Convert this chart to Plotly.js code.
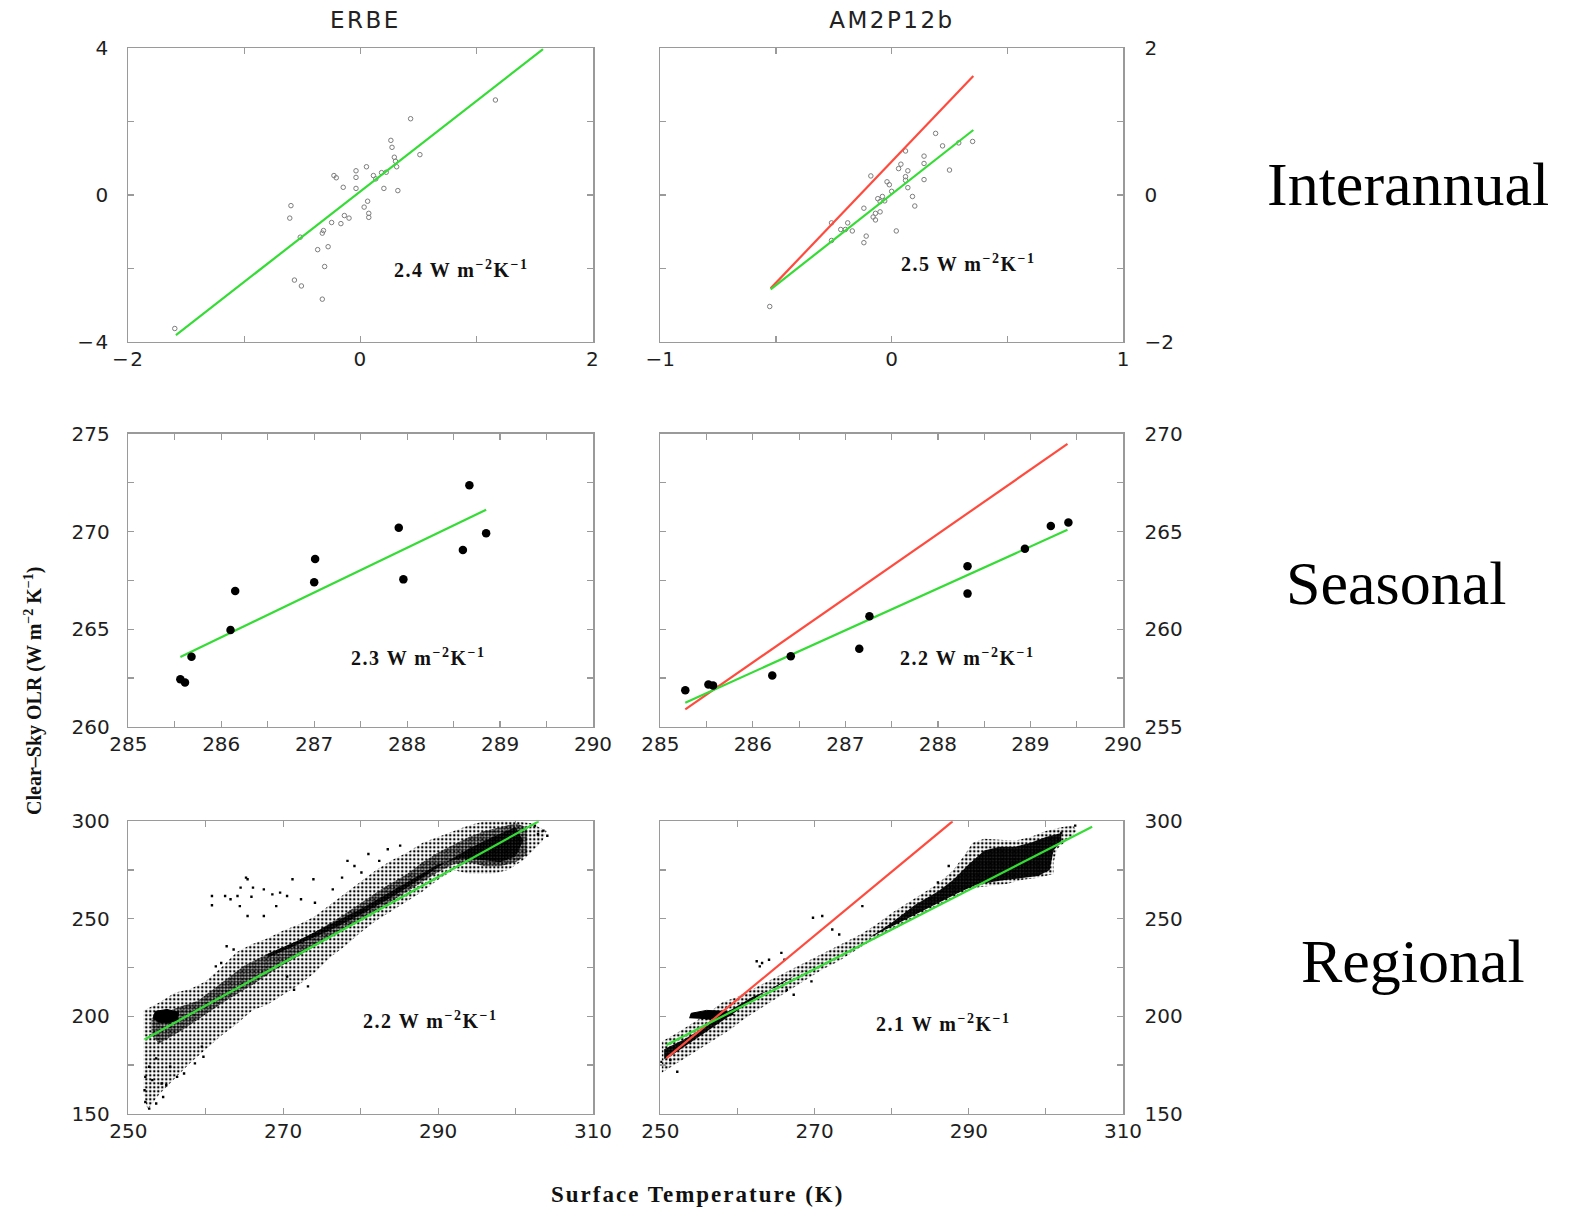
<!DOCTYPE html>
<html>
<head>
<meta charset="utf-8">
<script src="https://cdn.plot.ly/plotly-3.0.1.min.js"></script>
<style>
  html, body { margin: 0; padding: 0; background: #fff; }
  #chart { width: 1576px; height: 1207px; }
  .xtick text, .ytick text { letter-spacing: 1.5px; }
  .annotation[data-index="0"] text, .annotation[data-index="1"] text, .annotation[data-index="2"] text,
  .annotation[data-index="3"] text, .annotation[data-index="4"] text, .annotation[data-index="5"] text { letter-spacing: 1.5px; }
  .annotation[data-index="6"] text, .annotation[data-index="7"] text { letter-spacing: 2.5px; }
  .annotation[data-index="12"] text { letter-spacing: 2px; }
</style>
</head>
<body>
<div id="chart"></div>
<script>
// ---------------- DATA ----------------
const columnTitles = ['ERBE', 'AM2P12b'];
const rowTitles = ['Interannual', 'Seasonal', 'Regional'];
const slopeLabels = ['2.4', '2.5', '2.3', '2.2', '2.2', '2.1'];

// Interannual, ERBE
const iaErbeX = [-1.60, 1.16, 0.43, 0.26, 0.27, 0.51, 0.29, 0.30, 0.31, 0.05, -0.04, -0.04, -0.23, -0.21, 0.11, 0.13, 0.18, 0.22, -0.15, -0.04, 0.20, 0.32, 0.06, 0.03, 0.07, 0.07, -0.60, -0.61, -0.14, -0.10, -0.25, -0.17, -0.32, -0.33, -0.52, -0.28, -0.37, -0.31, -0.57, -0.51, -0.33];
const iaErbeY = [-3.64, 2.59, 2.08, 1.49, 1.30, 1.10, 1.03, 0.92, 0.77, 0.77, 0.66, 0.48, 0.53, 0.47, 0.53, 0.44, 0.61, 0.62, 0.21, 0.18, 0.18, 0.12, -0.17, -0.33, -0.50, -0.61, -0.29, -0.63, -0.56, -0.63, -0.75, -0.78, -0.97, -1.04, -1.15, -1.41, -1.49, -1.95, -2.32, -2.48, -2.84];
const iaErbeFitX = [-1.59, 1.57];
const iaErbeFitY = [-3.82, 3.98];

// Interannual, AM2P12b
const iaAm2X = [-0.527, 0.19, 0.22, 0.29, 0.35, 0.06, 0.14, 0.14, 0.04, 0.03, 0.07, -0.09, 0.25, 0.06, 0.14, 0.06, -0.02, -0.01, 0.07, 0.00, -0.04, -0.06, 0.09, -0.03, -0.05, 0.10, -0.12, -0.05, -0.07, -0.08, -0.07, -0.19, -0.26, -0.22, -0.20, -0.17, 0.02, -0.11, -0.26, -0.12];
const iaAm2Y = [-1.52, 0.84, 0.67, 0.71, 0.73, 0.60, 0.53, 0.43, 0.42, 0.36, 0.33, 0.26, 0.34, 0.25, 0.21, 0.20, 0.18, 0.14, 0.10, 0.05, -0.02, -0.05, -0.02, -0.08, -0.09, -0.15, -0.18, -0.23, -0.25, -0.30, -0.34, -0.38, -0.38, -0.47, -0.47, -0.49, -0.49, -0.56, -0.62, -0.65];
const iaAm2FitX = [-0.523, 0.353];
const iaAm2FitY = [-1.286, 0.886];
const iaAm2RefX = [-0.523, 0.353];
const iaAm2RefY = [-1.273, 1.623];

// Seasonal, ERBE
const seErbeX = [285.56, 285.61, 285.68, 286.10, 286.15, 287.00, 287.01, 287.91, 287.96, 288.60, 288.67, 288.85];
const seErbeY = [262.43, 262.26, 263.59, 264.95, 266.95, 267.40, 268.59, 270.20, 267.55, 269.06, 272.37, 269.91];
const seErbeFitX = [285.56, 288.85];
const seErbeFitY = [263.57, 271.12];

// Seasonal, AM2P12b
const seAm2X = [285.27, 285.52, 285.57, 286.21, 286.41, 287.15, 287.26, 288.32, 288.32, 288.94, 289.22, 289.41];
const seAm2Y = [256.87, 257.16, 257.11, 257.62, 258.61, 258.99, 260.66, 261.82, 263.22, 264.12, 265.29, 265.47];
const seAm2FitX = [285.27, 289.40];
const seAm2FitY = [256.23, 265.09];
const seAm2RefX = [285.27, 289.40];
const seAm2RefY = [255.89, 269.49];

// Regional, ERBE: outline of the sparse cloud, of the dense band, the solid blob, scattered points
const reErbeHaloX = [252.0, 254, 256, 258, 260, 262, 264, 266, 268, 270, 272, 274, 276, 278, 280, 282, 284, 286, 288, 290, 292, 294, 296, 300, 302, 304, 303.5, 302, 301, 299, 297, 294, 292, 290, 288, 286, 284, 282, 280, 278, 276, 274, 272, 270, 268, 266, 264, 262, 260, 258, 256, 254, 252.5, 252];
const reErbeHaloY = [203, 207, 212, 214, 218, 225, 233, 237, 240, 244, 247, 251, 257, 263, 269, 275, 280, 284, 289, 292, 295, 298, 300, 300, 299, 295, 290, 284, 280, 275, 273, 273, 275, 270, 264, 259, 254, 249, 243, 236, 230, 222, 216, 211, 206, 203, 196, 190, 183, 176, 168, 160, 152, 160];
const reErbeBandX = [253, 256, 259, 262, 265, 268, 271, 274, 277, 280, 283, 286, 288, 290, 292, 294, 296, 298, 300, 301.5, 301.5, 300, 298, 296, 294, 292, 290, 288, 286, 284, 281, 278, 275, 272, 269, 266, 263, 260, 257, 254, 253];
const reErbeBandY = [199, 204, 208, 217, 226, 232, 237, 243, 250, 258, 266, 273, 279, 284, 288, 292, 295, 297, 299, 297, 283, 279, 277, 277, 279, 278, 274, 269, 264, 259, 252, 245, 238, 231, 224, 216, 209, 201, 193, 186, 190];
const reErbeCoreX = [268, 272, 276, 280, 284, 288, 291, 294, 297, 300, 301, 300, 298, 296, 293, 290, 287, 284, 280, 276, 272, 268];
const reErbeCoreY = [230, 237, 244, 252, 261, 271, 279, 286, 292, 297, 290, 282, 279, 280, 281, 278, 271, 264, 255, 247, 239, 232];
const reErbeBlobX = [253.2, 253.5, 255, 256.5, 256.3, 255, 253.8];
const reErbeBlobY = [199, 202.5, 203.5, 202, 198, 196.5, 197];
const reErbeOutX = [260.8, 260.8, 262.5, 263.2, 264.1, 264.5, 265.2, 265.4, 264.4, 265.9, 266.1, 267.5, 268.6, 269.6, 271.2, 270.5, 272.3, 273.9, 274.1, 267.5, 265.4, 277.6, 278.3, 279.2, 281.0, 283.5, 285.1, 282.4, 280.1, 276.4, 269.1, 271.4, 273.2, 270.5, 252.2, 252.7, 253.6, 254.5, 252.1, 253.1, 254.3, 254.9, 256.3, 257.2, 255.4, 258.6, 259.7, 259.5, 252.7, 252.2, 253.6, 302.5, 303.6, 304.1, 302.9, 262.7, 262.0, 263.6, 261.3];
const reErbeOutY = [261.7, 256.9, 261.7, 260.0, 261.7, 266.0, 271.1, 270.3, 256.5, 261.3, 266.0, 265.1, 262.5, 263.4, 270.3, 261.7, 260.0, 270.3, 258.2, 251.4, 251.4, 271.1, 279.7, 277.1, 283.2, 285.7, 287.5, 279.7, 273.7, 265.1, 256.5, 213.6, 215.3, 220.4, 156.0, 152.6, 155.2, 158.6, 162.0, 167.2, 165.5, 164.6, 168.9, 170.6, 174.1, 175.8, 179.2, 184.4, 174.1, 168.9, 178.4, 297.8, 295.2, 292.6, 293.5, 235.9, 227.3, 234.2, 225.6];
const reErbeFitX = [252.1, 303.0];
const reErbeFitY = [188.1, 300.0];

// Regional, AM2P12b
const reAm2HaloX = [250.2, 252, 254, 256, 258, 260, 262, 264, 266, 268, 270, 272, 274, 276, 278, 280, 282, 284, 286, 288, 289.5, 290.5, 292, 294, 296, 298, 300, 302, 303.5, 304, 303, 301.5, 301, 301, 299, 297, 295, 293, 291, 289, 287, 285, 283, 281, 279, 277, 275, 273, 271, 269, 267, 265, 263, 261, 259, 257, 255, 253, 251, 250.2];
const reAm2HaloY = [187, 191, 196, 201, 207, 210, 214, 218, 222, 226, 230, 234, 238, 242, 247, 253, 258, 263, 268, 275, 283, 289, 291, 290.5, 290, 292, 295, 297, 298, 295, 291, 286, 279, 273, 271, 270, 268, 267, 266, 263, 259, 255, 251, 246, 242, 238, 233, 228, 224, 219, 214, 209, 204, 199, 193, 188, 183, 178, 173, 171];
const reAm2BandX = [250.5, 253, 256, 259, 262, 265, 268, 271, 274, 277, 280, 283, 286, 288, 290, 292, 294, 296, 298, 300, 302, 302, 301, 300.5, 299, 297, 294, 291, 289, 287, 284, 281, 278, 275, 272, 269, 266, 263, 260, 257, 254, 251.5, 250.5];
const reAm2BandY = [183, 188, 195, 203, 210, 215, 222, 228, 234, 240, 248, 257, 264, 270, 278, 285, 287, 287, 289, 292, 294, 290, 285, 275, 272, 271, 269.5, 267.5, 264, 260, 254, 248, 242, 236, 230, 224, 218, 211, 203, 195, 187, 180, 178];
const reAm2BlobX = [253.8, 254, 256, 258.5, 259.5, 258, 256];
const reAm2BlobY = [199, 201.5, 203, 202.5, 201, 199, 198.5];
const reAm2OutX = [262.5, 263.2, 264.1, 262.9, 265.7, 266.1, 269.8, 271.0, 272.3, 276.2, 273.2, 269.6, 266.4, 267.3, 252.2, 251.3, 250.1, 286.0, 287.4, 303.8, 302.0];
const reAm2OutY = [228.2, 227.3, 229.0, 225.6, 232.5, 229.0, 250.5, 251.4, 244.5, 256.5, 241.9, 217.9, 213.6, 211.0, 171.5, 177.5, 176.6, 268.6, 277.1, 297.8, 294.0];
const reAm2FitX = [250.8, 306.0];
const reAm2FitY = [185.2, 297.2];
const reAm2RefX = [250.8, 287.9];
const reAm2RefY = [178.5, 300.0];

// Axis ticks: labelled ticks and unlabelled (minor) ticks
const iaErbeXTicks = [-2, 0, 2];   const iaErbeXText = ['\u22122', '0', '2'];   const iaErbeXMinor = [-1, 1];
const iaErbeYTicks = [-4, 0, 4];   const iaErbeYText = ['\u22124', '0', '4'];   const iaErbeYMinor = [-2, 2];
const iaAm2XTicks = [-1, 0, 1];    const iaAm2XText = ['\u22121', '0', '1'];    const iaAm2XMinor = [-0.5, 0.5];
const iaAm2YTicks = [-2, 0, 2];    const iaAm2YText = ['\u22122', '0', '2'];    const iaAm2YMinor = [-1, 1];
const seXTicks = [285, 286, 287, 288, 289, 290];
const seXText = ['285', '286', '287', '288', '289', '290'];
const seXMinor = [285.5, 286.5, 287.5, 288.5, 289.5];
const seErbeYTicks = [260, 265, 270, 275];  const seErbeYText = ['260', '265', '270', '275'];  const seErbeYMinor = [262.5, 267.5, 272.5];
const seAm2YTicks = [255, 260, 265, 270];   const seAm2YText = ['255', '260', '265', '270'];   const seAm2YMinor = [257.5, 262.5, 267.5];
const reXTicks = [250, 270, 290, 310];      const reXText = ['250', '270', '290', '310'];      const reXMinor = [260, 280, 300];
const reYTicks = [150, 200, 250, 300];      const reYText = ['150', '200', '250', '300'];      const reYMinor = [175, 225, 275];

// ---------------- STYLE ----------------
const GREEN = '#35dc35';
const RED = '#ff4b3e';
const W = 1576, H = 1207;

function line(xa, ya, x, y, color) {
  return { type: 'scatter', mode: 'lines', x: x, y: y, xaxis: xa, yaxis: ya,
           line: { color: color, width: 2.2 }, hoverinfo: 'skip' };
}
function pts(xa, ya, x, y, marker) {
  return { type: 'scatter', mode: 'markers', x: x, y: y, xaxis: xa, yaxis: ya,
           marker: marker, hoverinfo: 'skip' };
}
function cloud(xa, ya, x, y, solidity, size, bg) {
  return { type: 'scatter', mode: 'lines', x: x, y: y, xaxis: xa, yaxis: ya,
           fill: 'toself', fillcolor: 'rgba(0,0,0,0)', line: { width: 0, color: 'rgba(0,0,0,0)' },
           fillpattern: { shape: '.', size: size, solidity: solidity, fgcolor: '#000', bgcolor: bg },
           hoverinfo: 'skip' };
}
function solid(xa, ya, x, y) {
  return { type: 'scatter', mode: 'lines', x: x, y: y, xaxis: xa, yaxis: ya,
           fill: 'toself', fillcolor: '#000', line: { width: 1, color: '#000' }, hoverinfo: 'skip' };
}

const iaMarker = { symbol: 'circle-open', size: 4.5, color: '#7d7d7d', line: { width: 1, color: '#7d7d7d' } };
const seMarker = { symbol: 'circle', size: 8.5, color: '#000' };
const reMarker = { symbol: 'square', size: 2.4, color: '#000' };

const traces = [
  pts('x', 'y', iaErbeX, iaErbeY, iaMarker),
  line('x', 'y', iaErbeFitX, iaErbeFitY, GREEN),

  pts('x2', 'y2', iaAm2X, iaAm2Y, iaMarker),
  line('x2', 'y2', iaAm2RefX, iaAm2RefY, RED),
  line('x2', 'y2', iaAm2FitX, iaAm2FitY, GREEN),

  line('x3', 'y3', seErbeFitX, seErbeFitY, GREEN),
  pts('x3', 'y3', seErbeX, seErbeY, seMarker),

  line('x4', 'y4', seAm2RefX, seAm2RefY, RED),
  line('x4', 'y4', seAm2FitX, seAm2FitY, GREEN),
  pts('x4', 'y4', seAm2X, seAm2Y, seMarker),

  cloud('x5', 'y5', reErbeHaloX, reErbeHaloY, 0.32, 4, 'rgba(0,0,0,0)'),
  cloud('x5', 'y5', reErbeBandX, reErbeBandY, 0.55, 3, 'rgba(0,0,0,0.06)'),
  cloud('x5', 'y5', reErbeCoreX, reErbeCoreY, 0.8, 3, 'rgba(0,0,0,0.25)'),
  solid('x5', 'y5', reErbeBlobX, reErbeBlobY),
  pts('x5', 'y5', reErbeOutX, reErbeOutY, reMarker),
  line('x5', 'y5', reErbeFitX, reErbeFitY, GREEN),

  cloud('x6', 'y6', reAm2HaloX, reAm2HaloY, 0.35, 4, 'rgba(0,0,0,0)'),
  cloud('x6', 'y6', reAm2BandX, reAm2BandY, 0.85, 3, 'rgba(0,0,0,0.25)'),
  solid('x6', 'y6', reAm2BlobX, reAm2BlobY),
  pts('x6', 'y6', reAm2OutX, reAm2OutY, reMarker),
  line('x6', 'y6', reAm2RefX, reAm2RefY, RED),
  line('x6', 'y6', reAm2FitX, reAm2FitY, GREEN)
];

const colDom = [[128.3 / W, 593 / W], [660.3 / W, 1123 / W]];
const rowDom = [[1 - 341.7 / H, 1 - 48.3 / H], [1 - 726.7 / H, 1 - 434 / H], [1 - 1113.7 / H, 1 - 821.3 / H]];
const tickFont = { family: 'DejaVu Sans', size: 20, color: '#1e1e1e' };
const TICKC = '#9a9a9a';

function minorOf(vals) {
  return { tickmode: 'array', tickvals: vals, ticks: 'inside', ticklen: 6, tickwidth: 1.2, tickcolor: TICKC, showgrid: false };
}
function axisId(col, row) { const n = row * 2 + col + 1; return n === 1 ? '' : String(n); }

function xAxis(col, row, range, vals, text, minor) {
  return { domain: colDom[col], anchor: 'y' + axisId(col, row),
           range: range, tickmode: 'array', tickvals: vals, ticktext: text, minor: minorOf(minor),
           ticks: 'inside', ticklen: 6, tickwidth: 1.2, tickcolor: TICKC,
           showline: true, linecolor: TICKC, linewidth: 1.6, mirror: 'ticks',
           showgrid: false, zeroline: false, tickfont: tickFont, ticklabelstandoff: -1, fixedrange: true };
}
function yAxis(col, row, range, vals, text, minor) {
  return { domain: rowDom[row], anchor: 'x' + axisId(col, row),
           side: col === 0 ? 'left' : 'right',
           range: range, tickmode: 'array', tickvals: vals, ticktext: text, minor: minorOf(minor),
           ticks: 'inside', ticklen: 6, tickwidth: 1.2, tickcolor: TICKC,
           showline: true, linecolor: TICKC, linewidth: 1.6, mirror: 'ticks',
           showgrid: false, zeroline: false, tickfont: tickFont,
           ticklabelstandoff: col === 0 ? 13 : 16, fixedrange: true };
}

function slopeText(s) {
  return s + ' W m<sup>\u22122</sup>K<sup>\u22121</sup>';
}
const slopeFont = { family: 'Liberation Serif', size: 20, color: '#111', weight: 'bold' };
const slopePos = [['x', 'y', 0.86, -2.02], ['x2', 'y2', 0.33, -0.93], ['x3', 'y3', 288.12, 263.59],
                  ['x4', 'y4', 288.31, 258.58], ['x5', 'y5', 288.98, 198.1], ['x6', 'y6', 286.7, 196.7]];

const annotations = slopePos.map((p, i) => ({
  xref: p[0], yref: p[1], x: p[2], y: p[3], text: slopeText(slopeLabels[i]),
  showarrow: false, xanchor: 'center', yanchor: 'middle', font: slopeFont
}));

// column titles (annotation indexes 6, 7)
const colTitlePos = [365 / W, 892 / W];
columnTitles.forEach((t, i) => annotations.push({
  xref: 'paper', yref: 'paper', x: colTitlePos[i], y: 1 - 20 / H,
  text: t, showarrow: false,
  xanchor: 'center', yanchor: 'middle', font: { family: 'DejaVu Sans', size: 23, color: '#222' }
}));
// row titles (8, 9, 10)
const rowTitlePos = [[1408 / W, 1 - 184 / H], [1396 / W, 1 - 583 / H], [1413 / W, 1 - 961 / H]];
rowTitles.forEach((t, i) => annotations.push({
  xref: 'paper', yref: 'paper', x: rowTitlePos[i][0], y: rowTitlePos[i][1], text: t, showarrow: false,
  xanchor: 'center', yanchor: 'middle', font: { family: 'Liberation Serif', size: 62, color: '#000' }
}));
// axis titles (11, 12)
annotations.push({
  xref: 'paper', yref: 'paper', x: 33 / W, y: 1 - 691 / H, textangle: -90,
  text: 'Clear\u2013Sky OLR (W m<sup>\u22122</sup> K<sup>\u22121</sup>)', showarrow: false,
  xanchor: 'center', yanchor: 'middle', font: { family: 'Liberation Serif', size: 20, color: '#111', weight: 'bold' }
});
annotations.push({
  xref: 'paper', yref: 'paper', x: 697 / W, y: 1 - 1194 / H,
  text: 'Surface Temperature (K)', showarrow: false,
  xanchor: 'center', yanchor: 'middle', font: { family: 'Liberation Serif', size: 23, color: '#111', weight: 'bold' }
});

const layout = {
  width: W, height: H, margin: { l: 0, r: 0, t: 0, b: 0 },
  paper_bgcolor: '#fff', plot_bgcolor: '#fff', showlegend: false,
  xaxis:  xAxis(0, 0, [-2, 2], iaErbeXTicks, iaErbeXText, iaErbeXMinor),
  yaxis:  yAxis(0, 0, [-4, 4], iaErbeYTicks, iaErbeYText, iaErbeYMinor),
  xaxis2: xAxis(1, 0, [-1, 1], iaAm2XTicks, iaAm2XText, iaAm2XMinor),
  yaxis2: yAxis(1, 0, [-2, 2], iaAm2YTicks, iaAm2YText, iaAm2YMinor),
  xaxis3: xAxis(0, 1, [285, 290], seXTicks, seXText, seXMinor),
  yaxis3: yAxis(0, 1, [260, 275], seErbeYTicks, seErbeYText, seErbeYMinor),
  xaxis4: xAxis(1, 1, [285, 290], seXTicks, seXText, seXMinor),
  yaxis4: yAxis(1, 1, [255, 270], seAm2YTicks, seAm2YText, seAm2YMinor),
  xaxis5: xAxis(0, 2, [250, 310], reXTicks, reXText, reXMinor),
  yaxis5: yAxis(0, 2, [150, 300], reYTicks, reYText, reYMinor),
  xaxis6: xAxis(1, 2, [250, 310], reXTicks, reXText, reXMinor),
  yaxis6: yAxis(1, 2, [150, 300], reYTicks, reYText, reYMinor),
  annotations: annotations
};

Plotly.newPlot('chart', traces, layout, { staticPlot: true, displayModeBar: false });
</script>
</body>
</html>
